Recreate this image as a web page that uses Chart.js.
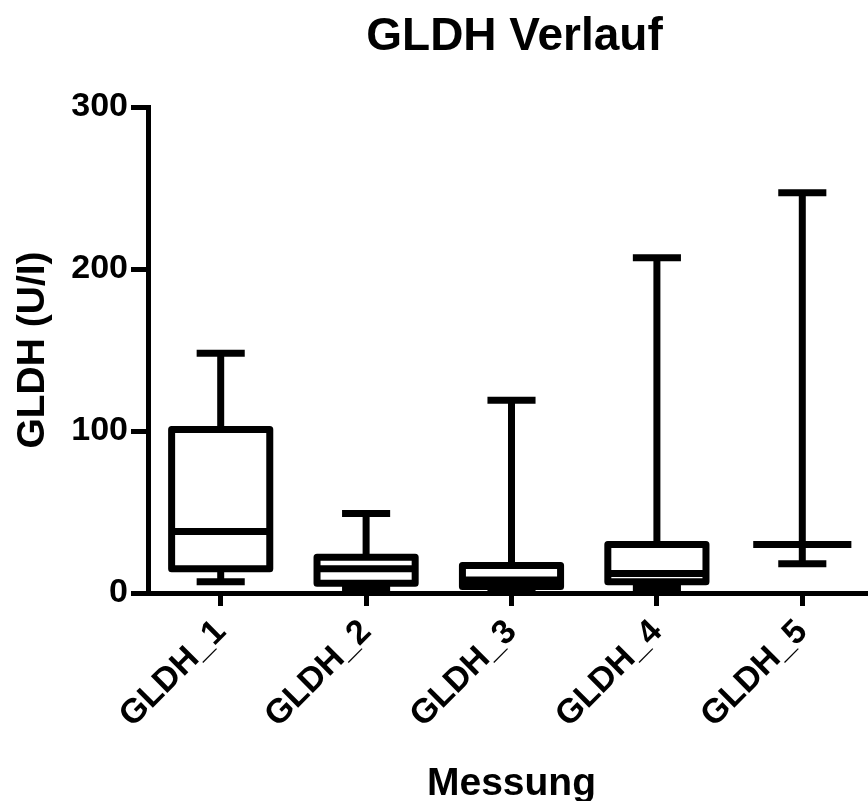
<!DOCTYPE html>
<html>
<head>
<meta charset="utf-8">
<script src="https://cdn.jsdelivr.net/npm/chart.js@4.4.1/dist/chart.umd.min.js"></script>
<style>
  html, body { margin: 0; padding: 0; background: #fff; overflow: hidden; }
  #wrap { width: 880px; height: 808px; }
</style>
</head>
<body>
<div id="wrap"><canvas id="myChart" width="880" height="808"></canvas></div>
<script>
// GLDH box plots
const categories = ['GLDH_1', 'GLDH_2', 'GLDH_3', 'GLDH_4', 'GLDH_5'];
const minVals    = [7, 3, 2, 3, 18];
const q1Vals     = [15, 6, 4, 7, 30];
const medianVals = [38, 15, 8, 12, 30];
const q3Vals     = [101, 22, 17, 30, 30];
const maxVals    = [148, 49, 119, 207, 247];
const yTicks     = [0, 100, 200, 300];

const FONT = '"Liberation Sans", Arial, sans-serif';

// floating bars give the boxes, the plugin adds whiskers / medians
const boxRanges = q1Vals.map((q1, i) => [q1, q3Vals[i]]);

const boxPlugin = {
    id: 'boxWhisker',
    afterDatasetsDraw(chart) {
        const ctx = chart.ctx;
        const y = chart.scales.y;
        const meta = chart.getDatasetMeta(0);
        ctx.save();
        ctx.strokeStyle = '#000';
        ctx.lineWidth = 7;
        ctx.lineJoin = 'round';
        ctx.lineCap = 'butt';
        const line = (x1, y1, x2, y2) => {
            ctx.beginPath();
            ctx.moveTo(x1, y1);
            ctx.lineTo(x2, y2);
            ctx.stroke();
        };
        meta.data.forEach((bar, i) => {
            const x = bar.x, half = bar.width / 2, cap = bar.width * 0.245;
            const pMin = y.getPixelForValue(minVals[i]);
            const pQ1 = y.getPixelForValue(q1Vals[i]);
            const pMed = y.getPixelForValue(medianVals[i]);
            const pQ3 = y.getPixelForValue(q3Vals[i]);
            const pMax = y.getPixelForValue(maxVals[i]);
            line(x, pMax, x, pQ3);
            line(x, pQ1, x, pMin);
            line(x - cap, pMax, x + cap, pMax);
            line(x - cap, pMin, x + cap, pMin);
            if (q3Vals[i] > q1Vals[i]) {
                ctx.strokeRect(x - half, pQ3, bar.width, pQ1 - pQ3);
            }
            line(x - half, pMed, x + half, pMed);
        });
        ctx.restore();
    }
};

const titlePlugin = {
    id: 'plotTitle',
    afterDraw(chart) {
        const ctx = chart.ctx;
        const a = chart.chartArea;
        ctx.save();
        ctx.fillStyle = '#000';
        ctx.font = 'bold 46px ' + FONT;
        ctx.textAlign = 'center';
        ctx.textBaseline = 'alphabetic';
        ctx.fillText('GLDH Verlauf', (a.left + a.right) / 2 + 3, 50);
        ctx.restore();
    }
};

var ctx = document.getElementById('myChart').getContext('2d');

var myChart = new Chart(ctx, {
    type: 'bar',
    data: {
        labels: categories,
        datasets: [{
            label: 'GLDH',
            data: boxRanges,
            backgroundColor: '#fff',
            borderWidth: 0,
            barPercentage: 0.675,
            categoryPercentage: 1
        }]
    },
    options: {
        responsive: false,
        animation: false,
        layout: { padding: { top: 107, right: 5, left: 0, bottom: 0 } },
        plugins: {
            legend: { display: false },
            tooltip: { enabled: false }
        },
        scales: {
            x: {
                offset: true,
                grid: {
                    offset: false,
                    drawOnChartArea: false,
                    drawTicks: true,
                    tickLength: 13,
                    lineWidth: 5,
                    color: '#000'
                },
                border: { display: true, width: 5, color: '#000' },
                ticks: {
                    color: '#000',
                    font: { family: FONT, size: 34, weight: 'bold' },
                    minRotation: 45,
                    maxRotation: 45,
                    padding: 6
                },
                title: {
                    display: true,
                    text: 'Messung',
                    color: '#000',
                    font: { family: FONT, size: 39, weight: 'bold' },
                    padding: { top: 0, bottom: 0 }
                },
                afterFit: (s) => { s.height = 808 - 593; }
            },
            y: {
                min: 0,
                max: 300,
                afterBuildTicks: (s) => { s.ticks = yTicks.map(v => ({ value: v })); },
                grid: {
                    drawOnChartArea: false,
                    drawTicks: true,
                    tickLength: 17,
                    lineWidth: 5,
                    color: '#000'
                },
                border: { display: true, width: 5, color: '#000' },
                ticks: {
                    color: '#000',
                    font: { family: FONT, size: 34, weight: 'bold' },
                    padding: 3
                },
                title: {
                    display: true,
                    text: 'GLDH (U/I)',
                    color: '#000',
                    font: { family: FONT, size: 39, weight: 'bold' },
                    padding: { top: 10, bottom: 0 }
                },
                afterFit: (s) => { s.width = 148; }
            }
        }
    },
    plugins: [boxPlugin, titlePlugin]
});
</script>
</body>
</html>
